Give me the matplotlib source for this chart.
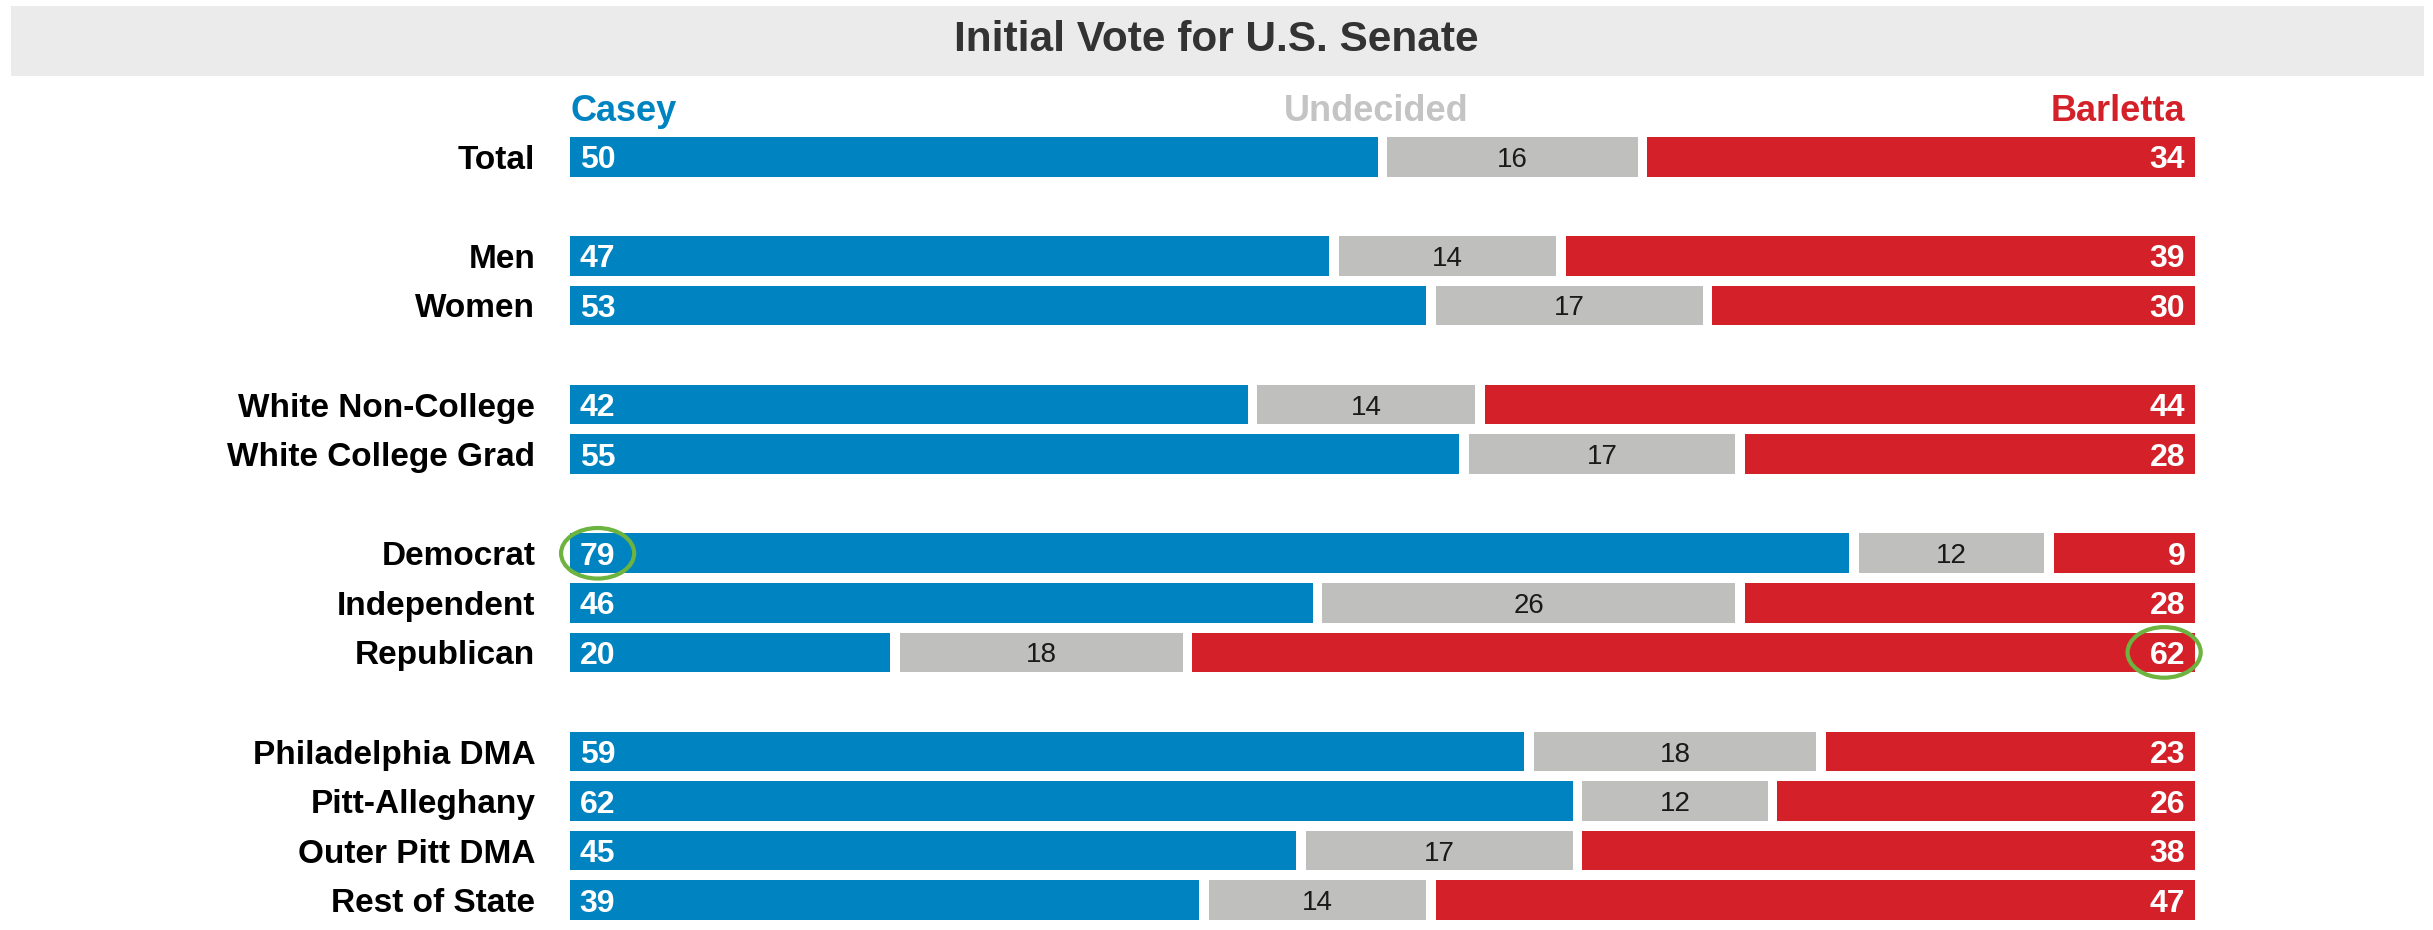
import matplotlib
matplotlib.use('Agg')
import matplotlib.pyplot as plt
from matplotlib.patches import Rectangle, Ellipse

plt.rcParams['font.family'] = ['Liberation Sans', 'DejaVu Sans']

BLUE = '#0083C1'
GREY = '#BFBFBD'
RED = '#D42129'
GREEN = '#6DB33F'

groups = ['Total', 'Men', 'Women', 'White Non-College', 'White College Grad',
          'Democrat', 'Independent', 'Republican',
          'Philadelphia DMA', 'Pitt-Alleghany', 'Outer Pitt DMA', 'Rest of State']
rows = [0, 2, 3, 5, 6, 8, 9, 10, 12, 13, 14, 15]
casey = [50, 47, 53, 42, 55, 79, 46, 20, 59, 62, 45, 39]
undecided = [16, 14, 17, 14, 17, 12, 26, 18, 18, 12, 17, 14]
barletta = [34, 39, 30, 44, 28, 9, 28, 62, 23, 26, 38, 47]
highlights = [('Democrat', 'casey'), ('Republican', 'barletta')]

W, H = 2433, 930
fig = plt.figure(figsize=(W / 100, H / 100), dpi=100)

# grey title band
fig.patches.append(Rectangle((11 / W, 1 - 76 / H), 2413 / W, 70 / H,
                             transform=fig.transFigure, facecolor='#EBEBEB',
                             edgecolor='none', zorder=0))
fig.text(0.5, 1 - 40 / H, 'Initial Vote for U.S. Senate', ha='center', va='center',
         fontsize=30.5, fontweight='bold', color='#333333')

ax = fig.add_axes([570 / W, 1 - 925 / H, 1625 / W, 793 / H])
ax.set_xlim(0, 100)
ax.set_ylim(15.5, -0.5)

gap = 0.6
h = 0.8
for y, c, u, b in zip(rows, casey, undecided, barletta):
    ax.barh(y, c - gap / 2, left=0, height=h, color=BLUE)
    ax.barh(y, u - gap, left=c + gap / 2, height=h, color=GREY)
    ax.barh(y, b - gap / 2, left=c + u + gap / 2, height=h, color=RED)
    ax.text(0.6, y, str(c), ha='left', va='center_baseline', fontsize=23,
            fontweight='bold', color='white')
    ax.text(c + u / 2, y, str(u), ha='center', va='center_baseline', fontsize=20,
            color='#1A1A1A')
    ax.text(99.4, y, str(b), ha='right', va='center_baseline', fontsize=23,
            fontweight='bold', color='white')

# circled values
for name, side in highlights:
    i = groups.index(name)
    if side == 'casey':
        cx = 1.7
    else:
        cx = 98.1
    ax.add_patch(Ellipse((cx, rows[i]), 4.5, 1.02, facecolor='none',
                         edgecolor=GREEN, linewidth=3, zorder=5, clip_on=False))

# column headers
ax.text(0, -1, 'Casey', ha='left', va='center_baseline', fontsize=26,
        fontweight='bold', color=BLUE, clip_on=False)
ax.text(49.6, -1, 'Undecided', ha='center', va='center_baseline', fontsize=26,
        fontweight='bold', color='#C4C4C4', clip_on=False)
ax.text(99.4, -1, 'Barletta', ha='right', va='center_baseline', fontsize=26,
        fontweight='bold', color=RED, clip_on=False)

ax.set_yticks(rows)
ax.set_yticklabels(groups, fontsize=24, fontweight='bold', color='black')
ax.tick_params(axis='y', length=0, pad=25)
ax.set_xticks([])
for s in ax.spines.values():
    s.set_visible(False)

fig.savefig('out.png', dpi=100, facecolor='white')
